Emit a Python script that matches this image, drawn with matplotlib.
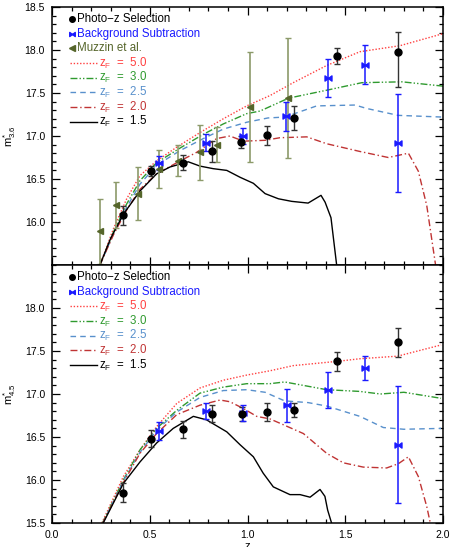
import numpy as np
import matplotlib
matplotlib.use("Agg")
import matplotlib.pyplot as plt
from matplotlib.path import Path
from matplotlib.ticker import MultipleLocator, FormatStrFormatter

plt.rcParams['font.family'] = ['Liberation Sans', 'DejaVu Sans']
plt.rcParams['mathtext.default'] = 'regular'

# ---- 3.6 micron: cluster m* values ----
phot_z_36 = [0.365, 0.506, 0.668, 0.818, 0.968, 1.098, 1.238, 1.458, 1.768]
phot_m_36 = [16.08, 16.59, 16.69, 16.82, 16.93, 17.01, 17.21, 17.93, 17.98]
phot_elo_36 = [0.11, 0.06, 0.09, 0.12, 0.065, 0.11, 0.14, 0.09, 0.41]
phot_ehi_36 = [0.11, 0.06, 0.09, 0.12, 0.065, 0.11, 0.14, 0.09, 0.23]

bgs_z_36 = [0.547, 0.787, 0.977, 1.197, 1.41, 1.60, 1.768]
bgs_m_36 = [16.69, 16.92, 17.00, 17.23, 17.67, 17.83, 16.92]
bgs_e_36 = [0.08, 0.10, 0.09, 0.17, 0.22, 0.23, 0.57]

muz_z = [0.245, 0.327, 0.438, 0.547, 0.646, 0.757, 0.845, 1.013, 1.207]
muz_m = [15.89, 16.20, 16.33, 16.62, 16.71, 16.81, 16.90, 17.34, 17.44]
muz_e = [0.38, 0.27, 0.31, 0.22, 0.18, 0.32, 0.20, 0.64, 0.70]

# ---- 3.6 micron: passive evolution models ----
zf50_z_36 = [0.245, 0.314, 0.382, 0.45, 0.535, 0.638, 0.757, 0.876, 0.996, 1.115, 1.234, 1.405, 1.575, 1.78, 2.0]
zf50_m_36 = [15.5, 15.92, 16.27, 16.54, 16.71, 16.87, 17.04, 17.20, 17.35, 17.47, 17.62, 17.82, 17.98, 18.05, 18.19]
zf30_z_36 = [0.245, 0.314, 0.382, 0.45, 0.535, 0.655, 0.774, 0.876, 0.996, 1.064, 1.21, 1.40, 1.585, 1.79, 2.0]
zf30_m_36 = [15.5, 15.88, 16.21, 16.48, 16.69, 16.86, 17.02, 17.14, 17.26, 17.29, 17.44, 17.53, 17.62, 17.63, 17.58]
zf25_z_36 = [0.245, 0.314, 0.382, 0.45, 0.535, 0.655, 0.774, 0.876, 0.996, 1.105, 1.19, 1.354, 1.55, 1.61, 1.77, 2.0]
zf25_m_36 = [15.5, 15.86, 16.17, 16.44, 16.66, 16.83, 16.97, 17.08, 17.16, 17.21, 17.22, 17.35, 17.36, 17.32, 17.24, 17.22]
zf20_z_36 = [0.245, 0.314, 0.382, 0.45, 0.535, 0.655, 0.74, 0.842, 0.91, 0.979, 1.09, 1.166, 1.303, 1.405,
             1.575, 1.72, 1.823, 1.874, 1.917, 1.962]
zf20_m_36 = [15.5, 15.85, 16.14, 16.38, 16.56, 16.71, 16.81, 16.97, 17.00, 16.94, 16.95, 16.98, 16.99, 16.91,
             16.82, 16.75, 16.80, 16.59, 16.19, 15.5]
zf15_z_36 = [0.245, 0.30, 0.365, 0.45, 0.535, 0.604, 0.697, 0.757, 0.825, 0.894, 0.962, 1.03, 1.09, 1.158,
             1.226, 1.31, 1.376, 1.397, 1.427, 1.456]
zf15_m_36 = [15.5, 15.81, 16.09, 16.36, 16.56, 16.64, 16.70, 16.65, 16.62, 16.60, 16.52, 16.45, 16.33, 16.27,
             16.24, 16.22, 16.31, 16.23, 16.05, 15.5]

# ---- 4.5 micron: cluster m* values ----
phot_z_45 = [0.365, 0.506, 0.668, 0.82, 0.97, 1.098, 1.238, 1.46, 1.768]
phot_m_45 = [15.85, 16.48, 16.59, 16.77, 16.77, 16.79, 16.81, 17.38, 17.60]
phot_e_45 = [0.11, 0.10, 0.10, 0.10, 0.08, 0.10, 0.08, 0.11, 0.17]

bgs_z_45 = [0.547, 0.788, 0.975, 1.20, 1.41, 1.60, 1.768]
bgs_m_45 = [16.57, 16.80, 16.78, 16.87, 17.05, 17.30, 16.41]
bgs_e_45 = [0.11, 0.09, 0.09, 0.19, 0.21, 0.14, 0.68]

# ---- 4.5 micron: passive evolution models ----
zf50_z_45 = [0.255, 0.365, 0.45, 0.535, 0.638, 0.757, 0.876, 0.996, 1.115, 1.234, 1.46, 1.575, 1.768, 1.99]
zf50_m_45 = [15.5, 16.04, 16.35, 16.62, 16.89, 17.07, 17.16, 17.22, 17.27, 17.33, 17.38, 17.41, 17.44, 17.57]
zf30_z_45 = [0.258, 0.365, 0.45, 0.535, 0.638, 0.757, 0.876, 0.996, 1.115, 1.19, 1.405, 1.575, 1.68, 1.80, 1.99]
zf30_m_45 = [15.5, 16.0, 16.35, 16.60, 16.81, 17.01, 17.08, 17.12, 17.12, 17.14, 17.05, 17.03, 17.00, 17.02, 16.95]
zf25_z_45 = [0.26, 0.365, 0.45, 0.535, 0.638, 0.757, 0.876, 0.996, 1.09, 1.19, 1.31, 1.405, 1.575, 1.695, 1.80, 1.99]
zf25_m_45 = [15.5, 15.99, 16.32, 16.58, 16.79, 16.96, 17.04, 17.05, 17.02, 16.92, 16.90, 16.86, 16.74, 16.61, 16.59, 16.60]
zf20_z_45 = [0.26, 0.365, 0.45, 0.535, 0.638, 0.757, 0.86, 0.91, 0.98, 1.047, 1.115, 1.166, 1.286, 1.405,
             1.49, 1.592, 1.712, 1.772, 1.823, 1.874, 1.917, 1.935]
zf20_m_45 = [15.5, 15.97, 16.31, 16.54, 16.76, 16.87, 16.93, 16.91, 16.83, 16.74, 16.71, 16.66, 16.54, 16.31,
             16.20, 16.15, 16.14, 16.19, 16.27, 16.04, 15.69, 15.5]
zf15_z_45 = [0.262, 0.365, 0.45, 0.535, 0.62, 0.723, 0.79, 0.894, 0.962, 1.03, 1.08, 1.132, 1.217, 1.269,
             1.32, 1.371, 1.396, 1.41, 1.43]
zf15_m_45 = [15.5, 15.96, 16.21, 16.43, 16.60, 16.74, 16.70, 16.56, 16.41, 16.27, 16.08, 15.92, 15.83, 15.83,
             15.80, 15.89, 15.81, 15.65, 15.5]

zf_labels = ['5.0', '3.0', '2.5', '2.0', '1.5']
zf_colors = ['#ff4040', '#2f9a2f', '#5890cc', '#c03434', 'black']
zf_dashes = [(1, 1.3), (5, 1.5, 1, 1.5, 1, 1.5), (4, 3), (5, 2, 1, 2), None]

C_PHOT = 'black'
C_BGS = '#1a1aff'
C_MUZ = '#55652a'
C_MUZ_BAR = '#8c9a6a'

# bowtie marker for the background-subtraction points
bowtie = Path([(-1, -0.75), (0, 0), (-1, 0.75), (-1, -0.75),
               (1, -0.75), (0, 0), (1, 0.75), (1, -0.75)],
              [Path.MOVETO, Path.LINETO, Path.LINETO, Path.CLOSEPOLY,
               Path.MOVETO, Path.LINETO, Path.LINETO, Path.CLOSEPOLY])

KEY_Y0 = 0.953
KEY_DY = 0.0568


def key_marker(ax, row, marker, color, label, ms):
    y = KEY_Y0 - row * KEY_DY
    ax.plot([0.051], [y], transform=ax.transAxes, marker=marker, color=color,
            ms=ms, ls='none', clip_on=False)
    ax.text(0.064, y, label, transform=ax.transAxes, color=color,
            va='center', ha='left', fontsize=8.3)


def key_line(ax, row, color, dashes, label):
    y = KEY_Y0 - row * KEY_DY
    ln, = ax.plot([0.046, 0.115], [y, y], transform=ax.transAxes, color=color, lw=1)
    if dashes is not None:
        ln.set_dashes(dashes)
    ax.text(0.121, y, label, transform=ax.transAxes, color=color,
            va='center', ha='left', fontsize=8.3)


def draw_models(ax, curves):
    for (zz, mm), col, dsh in zip(curves, zf_colors, zf_dashes):
        ln, = ax.plot(zz, mm, color=col, lw=1)
        if dsh is not None:
            ln.set_dashes(dsh)


def style_axis(ax, yticks):
    ax.set_xlim(0.0, 2.0)
    ax.set_ylim(15.5, 18.5)
    ax.xaxis.set_major_locator(MultipleLocator(0.5))
    ax.xaxis.set_minor_locator(MultipleLocator(0.1))
    ax.set_yticks(yticks)
    ax.yaxis.set_minor_locator(MultipleLocator(0.1))
    ax.yaxis.set_major_formatter(FormatStrFormatter('%.1f'))
    ax.xaxis.set_major_formatter(FormatStrFormatter('%.1f'))
    ax.tick_params(which='both', direction='in', top=True, right=True,
                   labelsize=7.5, width=0.9, pad=5)
    ax.tick_params(which='major', length=6)
    ax.tick_params(which='minor', length=3)
    for sp in ax.spines.values():
        sp.set_linewidth(1.1)


fig = plt.figure(figsize=(4.5, 5.47), dpi=100)
ax1 = fig.add_axes([52 / 450, 1 - 265 / 547, 391 / 450, 258 / 547])
ax2 = fig.add_axes([52 / 450, 1 - 523 / 547, 391 / 450, 258 / 547])

# ---------------- 3.6 micron panel ----------------
draw_models(ax1, [(zf50_z_36, zf50_m_36), (zf30_z_36, zf30_m_36), (zf25_z_36, zf25_m_36),
                  (zf20_z_36, zf20_m_36), (zf15_z_36, zf15_m_36)])
ax1.errorbar(muz_z, muz_m, yerr=muz_e, fmt='<', color=C_MUZ, ecolor=C_MUZ_BAR,
             ms=4, capsize=2, elinewidth=1.2, capthick=1)
ax1.errorbar(phot_z_36, phot_m_36, yerr=[phot_elo_36, phot_ehi_36], fmt='o', color=C_PHOT,
             ecolor='#333333', ms=5, capsize=2, elinewidth=1, capthick=1)
ax1.errorbar(bgs_z_36, bgs_m_36, yerr=bgs_e_36, fmt='none', ecolor=C_BGS,
             capsize=2, elinewidth=1.1, capthick=1)
ax1.plot(bgs_z_36, bgs_m_36, ls='none', marker=bowtie, color=C_BGS, ms=5)

style_axis(ax1, [16.0, 16.5, 17.0, 17.5, 18.0, 18.5])
ax1.tick_params(labelbottom=False)
ax1.set_ylabel(r'$m^{*}_{3.6}$', fontsize=8)
ax1.yaxis.set_label_coords(-0.088, 0.5)

key_marker(ax1, 0, 'o', C_PHOT, 'Photo\u2212z Selection', 4)
key_marker(ax1, 1, bowtie, C_BGS, 'Background Subtraction', 4)
key_marker(ax1, 2, '<', C_MUZ, 'Muzzin et al.', 4)
for i, (lab, col, dsh) in enumerate(zip(zf_labels, zf_colors, zf_dashes)):
    key_line(ax1, 3 + i, col, dsh, r'$z_F$  =  ' + lab)

# ---------------- 4.5 micron panel ----------------
draw_models(ax2, [(zf50_z_45, zf50_m_45), (zf30_z_45, zf30_m_45), (zf25_z_45, zf25_m_45),
                  (zf20_z_45, zf20_m_45), (zf15_z_45, zf15_m_45)])
ax2.errorbar(phot_z_45, phot_m_45, yerr=phot_e_45, fmt='o', color=C_PHOT,
             ecolor='#333333', ms=5, capsize=2, elinewidth=1, capthick=1)
ax2.errorbar(bgs_z_45, bgs_m_45, yerr=bgs_e_45, fmt='none', ecolor=C_BGS,
             capsize=2, elinewidth=1.1, capthick=1)
ax2.plot(bgs_z_45, bgs_m_45, ls='none', marker=bowtie, color=C_BGS, ms=5)

style_axis(ax2, [15.5, 16.0, 16.5, 17.0, 17.5, 18.0])
ax2.set_ylabel(r'$m^{*}_{4.5}$', fontsize=8)
ax2.yaxis.set_label_coords(-0.088, 0.5)
ax2.set_xlabel('z', fontsize=8)
ax2.xaxis.set_label_coords(0.5, -0.068)

key_marker(ax2, 0, 'o', C_PHOT, 'Photo\u2212z Selection', 4)
key_marker(ax2, 1, bowtie, C_BGS, 'Background Subtraction', 4)
for i, (lab, col, dsh) in enumerate(zip(zf_labels, zf_colors, zf_dashes)):
    key_line(ax2, 2 + i, col, dsh, r'$z_F$  =  ' + lab)

fig.savefig('out.png', dpi=100)
